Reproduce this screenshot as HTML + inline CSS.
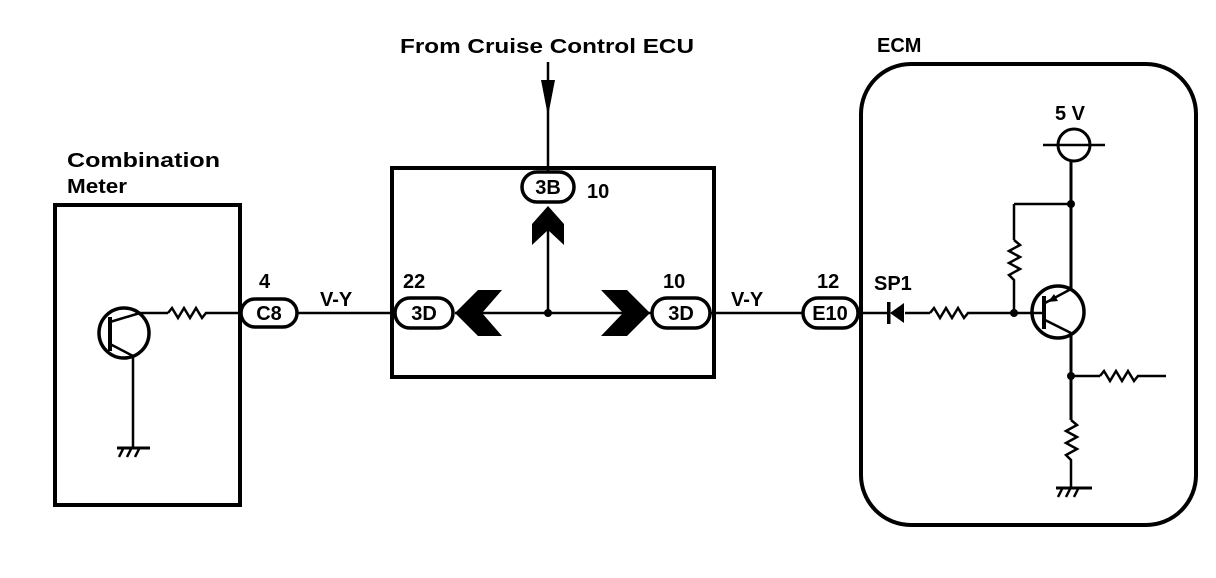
<!DOCTYPE html>
<html><head><meta charset="utf-8"><style>
html,body{margin:0;padding:0;background:#fff;}
svg{display:block;}
text{font-family:"Liberation Sans",sans-serif;font-weight:bold;fill:#000;}
</style></head><body>
<svg width="1216" height="578" viewBox="0 0 1216 578" xmlns="http://www.w3.org/2000/svg">
<g fill="none" stroke="#000" stroke-width="2.5">
<!-- Combination meter -->
<rect x="55" y="205" width="185" height="300" stroke-width="4"/>
<circle cx="124" cy="333" r="25" stroke-width="3.5"/>
<line x1="110" y1="317" x2="110" y2="351" stroke-width="4"/>
<line x1="110" y1="322" x2="140" y2="313"/>
<line x1="110" y1="344" x2="133" y2="356"/>
<line x1="133" y1="356" x2="133" y2="448"/>
<line x1="140" y1="313" x2="168" y2="313"/>
<polyline points="168,313 172,308 178,318 184,308 190,318 196,308 202,318 206,313 240,313"/>
<line x1="117" y1="448" x2="150" y2="448" stroke-width="3"/>
<line x1="123" y1="449" x2="119" y2="457"/><line x1="131" y1="449" x2="127" y2="457"/><line x1="139" y1="449" x2="135" y2="457"/>
<!-- C8 -->
<rect x="241" y="299" width="56" height="28" rx="14" stroke-width="3.5" fill="#fff"/>
<line x1="297" y1="313" x2="393" y2="313"/>
<!-- middle box -->
<rect x="392" y="168" width="322" height="209" stroke-width="4"/>
<line x1="548" y1="62" x2="548" y2="174"/>
<line x1="548" y1="230" x2="548" y2="313"/>
<line x1="455" y1="313" x2="652" y2="313"/>
<rect x="522" y="172" width="52" height="30" rx="15" stroke-width="3.5" fill="#fff"/>
<rect x="395" y="298" width="58" height="30" rx="15" stroke-width="3.5" fill="#fff"/>
<rect x="652" y="298" width="58" height="30" rx="15" stroke-width="3.5" fill="#fff"/>
<line x1="710" y1="313" x2="803" y2="313"/>
<rect x="803" y="298" width="55" height="30" rx="15" stroke-width="3.5" fill="#fff"/>
<!-- ECM -->
<rect x="861" y="64" width="335" height="461" rx="50" stroke-width="4"/>
<line x1="858" y1="313" x2="890" y2="313"/>
<line x1="905" y1="313" x2="930" y2="313"/>
<polyline points="930,313 934,308 940,318 946,308 952,318 958,308 964,318 968,313 1042,313"/>
<circle cx="1074" cy="145" r="16" stroke-width="3"/>
<line x1="1043" y1="145" x2="1105" y2="145"/>
<line x1="1071" y1="161" x2="1071" y2="290" stroke-width="3"/>
<line x1="1014" y1="204" x2="1071" y2="204"/>
<line x1="1014" y1="204" x2="1014" y2="240"/>
<polyline points="1014,240 1020,245 1009,251 1020,257 1009,263 1020,269 1009,275 1014,280 1014,313"/>
<circle cx="1058" cy="312" r="26" stroke-width="3.5"/>
<line x1="1044" y1="296" x2="1044" y2="329" stroke-width="4"/>
<line x1="1045" y1="303" x2="1071" y2="289"/>
<line x1="1045" y1="320" x2="1071" y2="333"/>
<line x1="1071" y1="333" x2="1071" y2="420" stroke-width="3"/>
<line x1="1071" y1="376" x2="1100" y2="376"/>
<polyline points="1100,376 1104,371 1110,381 1116,371 1122,381 1128,371 1134,381 1138,376 1166,376"/>
<polyline points="1071,420 1077,425 1066,431 1077,437 1066,443 1077,449 1066,455 1071,460 1071,488"/>
<line x1="1056" y1="488" x2="1092" y2="488" stroke-width="3"/>
<line x1="1062" y1="489" x2="1058" y2="497"/><line x1="1070" y1="489" x2="1066" y2="497"/><line x1="1078" y1="489" x2="1074" y2="497"/>
</g>
<g fill="#000" stroke="none">
<polygon points="541,80 555,80 548,116"/>
<polygon points="548,206 564,224 564,245 548,230 532,245 532,224"/>
<polygon points="455,313 478,290 502,290 482,313 502,336 478,336"/>
<polygon points="650,313 627,290 601,290 623,313 601,336 627,336"/>
<circle cx="548" cy="313" r="4"/>
<circle cx="1014" cy="313" r="4"/>
<circle cx="1071" cy="204" r="4"/>
<circle cx="1071" cy="376" r="4"/>
<polygon points="890,313 904,303 904,323"/>
<rect x="887" y="302" width="3.5" height="22"/>
<polygon points="1048,302 1054,294 1058,301"/>
</g>
<g font-size="20">
<text x="400" y="53" textLength="294" lengthAdjust="spacingAndGlyphs">From Cruise Control ECU</text>
<text x="67" y="167" textLength="153" lengthAdjust="spacingAndGlyphs">Combination</text>
<text x="67" y="193" textLength="60" lengthAdjust="spacingAndGlyphs">Meter</text>
<text x="259" y="288">4</text>
<text x="320" y="306">V-Y</text>
<text x="403" y="288">22</text>
<text x="663" y="288">10</text>
<text x="587" y="198">10</text>
<text x="731" y="306">V-Y</text>
<text x="817" y="288">12</text>
<text x="877" y="52">ECM</text>
<text x="874" y="290">SP1</text>
<text x="1055" y="120">5 V</text>
<text x="269" y="320" text-anchor="middle">C8</text>
<text x="548" y="194" text-anchor="middle">3B</text>
<text x="424" y="320" text-anchor="middle">3D</text>
<text x="681" y="320" text-anchor="middle">3D</text>
<text x="830" y="320" text-anchor="middle">E10</text>
</g>
</svg>
</body></html>
